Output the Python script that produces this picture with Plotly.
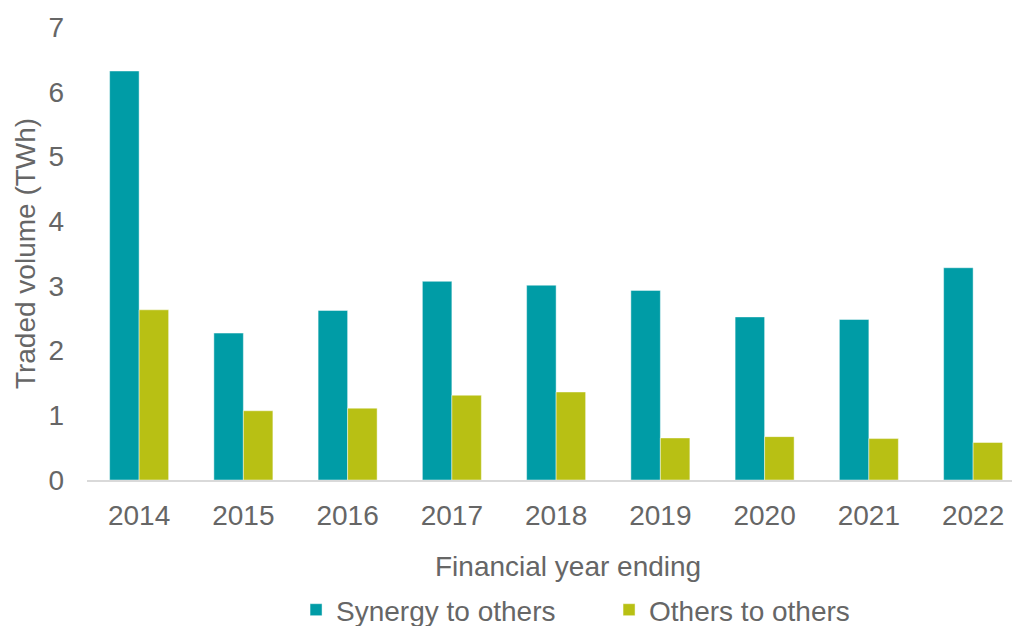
import plotly.graph_objects as go

years = ["2014", "2015", "2016", "2017", "2018", "2019", "2020", "2021", "2022"]
synergy_to_others = [6.32, 2.27, 2.62, 3.07, 3.01, 2.93, 2.52, 2.48, 3.28]
others_to_others = [2.63, 1.07, 1.11, 1.31, 1.36, 0.65, 0.67, 0.64, 0.58]
y_ticks = [0, 1, 2, 3, 4, 5, 6, 7]

TEAL = "#009CA6"
OLIVE = "#B8C014"
TEXT = "#666666"
FONT = "Liberation Sans, Arial, sans-serif"

fig = go.Figure()
fig.add_trace(go.Bar(x=years, y=synergy_to_others, name="Synergy to others",
                     marker=dict(color=TEAL, line=dict(color="rgba(255,255,255,0.45)", width=1))))
fig.add_trace(go.Bar(x=years, y=others_to_others, name="Others to others",
                     marker=dict(color=OLIVE, line=dict(color="rgba(255,255,255,0.45)", width=1))))

fig.update_layout(
    width=1012, height=626,
    margin=dict(l=87, r=0, t=27, b=146),
    paper_bgcolor="white", plot_bgcolor="white",
    barmode="group", bargap=0.434, bargroupgap=0,
    font=dict(family=FONT, size=28, color=TEXT),
    showlegend=True,
    legend=dict(orientation="h", x=0.226, xanchor="left",
                yref="container", y=1 - 610 / 626, yanchor="middle",
                font=dict(size=28, color=TEXT), entrywidth=268, traceorder="normal",
                bgcolor="rgba(0,0,0,0)"),
    annotations=[dict(text="Financial year ending", xref="paper", yref="paper",
                      x=0.52, y=-0.19, xanchor="center", yanchor="middle",
                      showarrow=False, font=dict(size=28, color=TEXT))],
)
fig.update_xaxes(
    type="category", range=[-0.5, 8.373],
    showline=True, linecolor="#D9D9D9", linewidth=1.5,
    showgrid=False, zeroline=False, ticks="",
    ticklabelstandoff=10,
    tickfont=dict(size=28, color=TEXT),
    automargin=False,
)
fig.update_yaxes(
    range=[0, 7], tickvals=y_ticks, ticktext=[str(v) for v in y_ticks],
    showline=False, showgrid=False, zeroline=False, ticks="",
    ticklabelstandoff=22,
    tickfont=dict(size=28, color=TEXT),
    title=dict(text="Traded volume (TWh)", font=dict(size=28, color=TEXT), standoff=4),
    automargin=False,
)

fig.write_html("out.html", config={"displayModeBar": False},
               post_script="document.body.style.margin='0';document.body.style.overflow='hidden';")
